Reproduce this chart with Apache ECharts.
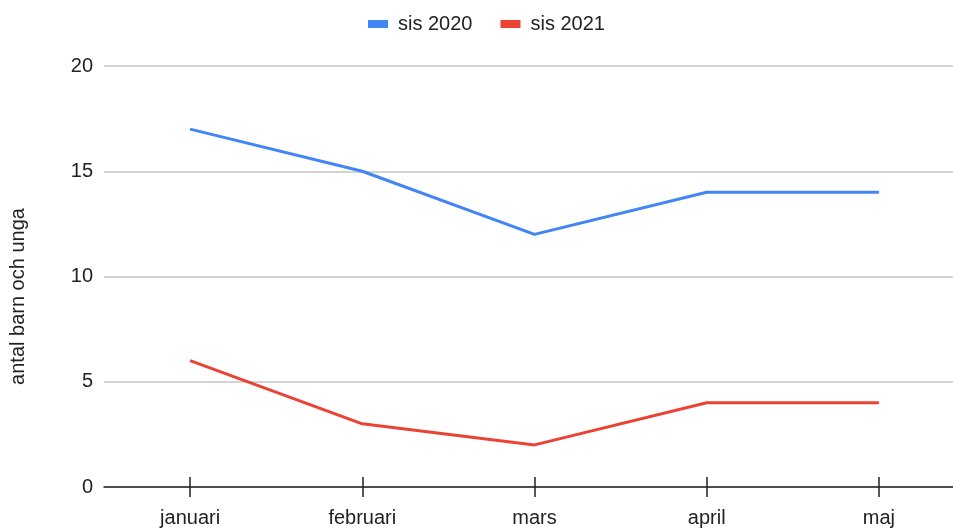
<!DOCTYPE html>
<html>
<head>
<meta charset="utf-8">
<script src="https://cdn.jsdelivr.net/npm/echarts@6/dist/echarts.min.js"></script>
<style>
html,body{margin:0;padding:0;background:#fff;overflow:hidden;width:953px;height:528px;}
#chart{width:965px;height:528px;}
</style>
</head>
<body>
<div id="chart"></div>
<script>
var categories = ['januari', 'februari', 'mars', 'april', 'maj'];
var sis2020 = [17, 15, 12, 14, 14];
var sis2021 = [6, 3, 2, 4, 4];
var yTicks = [0, 5, 10, 15, 20];
var seriesNames = ['sis 2020', 'sis 2021'];
var yAxisName = 'antal barn och unga';

var chart = echarts.init(document.getElementById('chart'), null, {renderer: 'canvas'});
var font = '"Liberation Sans", Arial, sans-serif';
var txt = '#222';
chart.setOption({
  animation: false,
  color: ['#4285F4', '#EA4335'],
  textStyle: {fontFamily: font},
  legend: {
    top: 9,
    left: 363,
    itemWidth: 20,
    itemHeight: 8,
    itemGap: 28,
    icon: 'rect',
    textStyle: {fontSize: 20, color: txt, fontFamily: font, padding: [0, 0, 0, 5]},
    data: seriesNames
  },
  grid: {left: 104, top: 66, bottom: 41, right: 0, containLabel: false},
  xAxis: [{
    type: 'category',
    data: categories,
    boundaryGap: true,
    axisLine: {show: true, lineStyle: {color: '#222', width: 1.5}},
    axisTick: {show: true, alignWithLabel: true, length: 10, lineStyle: {color: '#222', width: 1.5}},
    axisLabel: {fontSize: 20, color: txt, margin: 21, fontFamily: font},
    splitLine: {show: false}
  }, {
    type: 'category',
    data: categories,
    position: 'bottom',
    boundaryGap: true,
    axisLine: {show: false},
    axisTick: {show: true, inside: true, alignWithLabel: true, length: 10, lineStyle: {color: '#222', width: 1.5}},
    axisLabel: {show: false},
    splitLine: {show: false}
  }],
  yAxis: {
    type: 'value',
    min: yTicks[0],
    max: yTicks[yTicks.length - 1],
    interval: 5,
    name: yAxisName,
    nameLocation: 'middle',
    nameGap: 76,
    nameTextStyle: {fontSize: 20, color: txt, fontFamily: font, padding: [0, 0, 0, -40]},
    axisLine: {show: false},
    axisTick: {show: false},
    axisLabel: {fontSize: 20, color: txt, margin: 11, fontFamily: font},
    splitLine: {lineStyle: {color: '#d3d3d3', width: 2}}
  },
  series: [{
    name: seriesNames[0],
    type: 'line',
    data: sis2020,
    symbol: 'none',
    lineStyle: {width: 3},
    z: 3
  }, {
    name: seriesNames[1],
    type: 'line',
    data: sis2021,
    symbol: 'none',
    lineStyle: {width: 3},
    z: 3
  }]
});
</script>
</body>
</html>
